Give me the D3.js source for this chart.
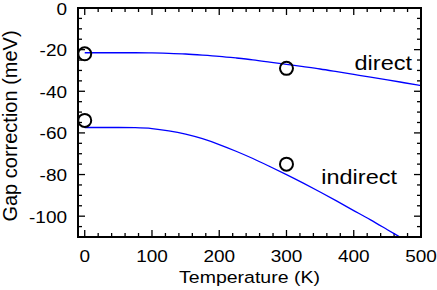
<!DOCTYPE html>
<html>
<head>
<meta charset="utf-8">
<script src="https://cdn.jsdelivr.net/npm/d3@7"></script>
<style>
body { margin: 0; background: #fff; }
text { font-family: "Liberation Sans", Arial, sans-serif; fill: #000; }
</style>
</head>
<body>
<script>
// temperature grid for curves (K)
let temps = [0, 25, 50, 75, 100, 125, 150, 175, 200, 225, 250, 275, 300, 325, 350, 375, 400, 425, 450, 475, 500];
let directFit = [-21.5, -21.5, -21.5, -21.5, -21.6, -21.8, -22.1, -22.6, -23.2, -24.0, -24.9, -26.0, -27.1, -28.2, -29.3, -30.6, -31.9, -33.2, -34.5, -35.9, -37.3];
let indirectFit = [-57.4, -57.4, -57.4, -57.5, -57.9, -59.0, -60.6, -62.8, -65.6, -68.8, -72.3, -76.1, -80.0, -84.1, -88.4, -92.8, -97.3, -101.8, -106.5, -111.2, -116.0];
// measured points
let pointT = [0, 300, 0, 300];
let pointGap = [-22, -29, -54, -75];
let xTicks = [0, 100, 200, 300, 400, 500];
let yTicks = [0, -20, -40, -60, -80, -100];

let margin = {left: 78, top: 8, right: 16, bottom: 53};
let W = 437, H = 290;
let svg = d3.select('body').append('svg')
    .attr('width', W)
    .attr('height', H);

let x = d3.scaleLinear().domain([-10, 500]).range([margin.left, W - margin.right]);
let y = d3.scaleLinear().domain([-110, 0]).range([H - margin.bottom, margin.top]);

svg.append('clipPath').attr('id', 'clip')
    .append('rect')
    .attr('x', x(-10)).attr('y', y(0))
    .attr('width', x(500) - x(-10)).attr('height', y(-110) - y(0));

// minor + major ticks, pointing inward on all four sides
function tickSet(vals, len, isX) {
    vals.forEach(function (v) {
        if (isX) {
            svg.append('line').attr('x1', x(v)).attr('x2', x(v))
                .attr('y1', y(-110)).attr('y2', y(-110) - len)
                .attr('stroke', '#000').attr('stroke-width', 1.3);
            svg.append('line').attr('x1', x(v)).attr('x2', x(v))
                .attr('y1', y(0)).attr('y2', y(0) + len)
                .attr('stroke', '#000').attr('stroke-width', 1.3);
        } else {
            svg.append('line').attr('y1', y(v)).attr('y2', y(v))
                .attr('x1', x(-10)).attr('x2', x(-10) + len)
                .attr('stroke', '#000').attr('stroke-width', 1.3);
            svg.append('line').attr('y1', y(v)).attr('y2', y(v))
                .attr('x1', x(500)).attr('x2', x(500) - len)
                .attr('stroke', '#000').attr('stroke-width', 1.3);
        }
    });
}
tickSet(d3.range(0, 501, 20).filter(v => v % 100 !== 0), 4, true);
tickSet(xTicks, 7, true);
tickSet(d3.range(-105, 0, 5).filter(v => v % 20 !== 0), 4, false);
tickSet(yTicks, 7, false);

let line = d3.line()
    .x((d, i) => x(temps[i]))
    .y(d => y(d))
    .curve(d3.curveNatural);

let curves = svg.append('g').attr('clip-path', 'url(#clip)');
[directFit, indirectFit].forEach(function (series) {
    curves.append('path')
        .datum(series)
        .attr('d', line)
        .attr('fill', 'none')
        .attr('stroke', '#0000ff')
        .attr('stroke-width', 1.3);
});

svg.append('rect')
    .attr('x', x(-10)).attr('y', y(0))
    .attr('width', x(500) - x(-10)).attr('height', y(-110) - y(0))
    .attr('fill', 'none')
    .attr('stroke', '#000')
    .attr('stroke-width', 2);

svg.selectAll('circle.pt')
    .data(pointGap)
    .enter()
    .append('circle')
    .attr('class', 'pt')
    .attr('cx', (d, i) => x(pointT[i]))
    .attr('cy', d => y(d))
    .attr('r', 6.5)
    .attr('fill', 'none')
    .attr('stroke', '#000')
    .attr('stroke-width', 2);

// the reference text looks a little squashed vertically
function label(px, py, str, size, anchor, rot) {
    svg.append('text')
        .attr('transform', 'translate(' + px + ',' + py + ')' + (rot ? ' rotate(-90)' : ' scale(1,0.86)'))
        .attr('text-anchor', anchor)
        .style('font-size', size + 'px')
        .text(str);
}

xTicks.forEach(d => label(x(d), 262, d, 19, 'middle'));
yTicks.forEach(d => label(67, y(d) + 6.5, d, 19, 'end'));

label((x(-10) + x(500)) / 2, 283, 'Temperature (K)', 19.5, 'middle');
label(17, 126, 'Gap correction (meV)', 20, 'middle', true);
label(412, 70, 'direct', 23.5, 'end');
label(397, 184, 'indirect', 23.5, 'end');
</script>
</body>
</html>
